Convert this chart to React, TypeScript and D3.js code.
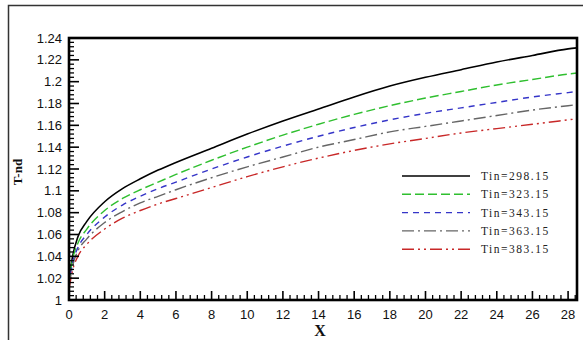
import React from "react";
import * as d3 from "d3";

// Distance along the channel (X) where the profiles are sampled
const xValues = [0, 0.2, 0.5, 1, 2, 3, 4, 5, 6, 8, 10, 12, 14, 16, 18, 20, 22, 24, 26, 28, 28.5];

// Non-dimensional temperature T-nd for each inlet temperature
const tin298 = [1.018, 1.040, 1.058, 1.072, 1.090, 1.102, 1.111, 1.119, 1.126, 1.139, 1.152, 1.164, 1.175, 1.186, 1.196, 1.204, 1.211, 1.218, 1.224, 1.230, 1.231];
const tin323 = [1.016, 1.037, 1.052, 1.065, 1.082, 1.093, 1.101, 1.108, 1.115, 1.128, 1.140, 1.151, 1.161, 1.170, 1.178, 1.185, 1.191, 1.197, 1.202, 1.207, 1.208];
const tin343 = [1.014, 1.034, 1.048, 1.060, 1.076, 1.087, 1.095, 1.102, 1.108, 1.120, 1.131, 1.141, 1.150, 1.158, 1.165, 1.171, 1.176, 1.181, 1.186, 1.190, 1.191];
const tin363 = [1.012, 1.031, 1.045, 1.056, 1.071, 1.081, 1.089, 1.095, 1.101, 1.112, 1.122, 1.131, 1.140, 1.147, 1.154, 1.159, 1.164, 1.169, 1.174, 1.178, 1.179];
const tin383 = [1.010, 1.027, 1.040, 1.051, 1.065, 1.075, 1.082, 1.088, 1.093, 1.103, 1.113, 1.122, 1.130, 1.137, 1.143, 1.148, 1.153, 1.157, 1.161, 1.165, 1.166];

const seriesLabels = ["Tin=298.15", "Tin=323.15", "Tin=343.15", "Tin=363.15", "Tin=383.15"];
const seriesValues = [tin298, tin323, tin343, tin363, tin383];
const seriesColors = ["#000000", "#2fbf2f", "#3535c8", "#666666", "#c82828"];
const seriesDashes = ["", "9,4", "6,5", "12,4,2,4", "12,4,2,4,2,4"];

const xTickValues = [0, 2, 4, 6, 8, 10, 12, 14, 16, 18, 20, 22, 24, 26, 28];
const yTickValues = [1, 1.02, 1.04, 1.06, 1.08, 1.1, 1.12, 1.14, 1.16, 1.18, 1.2, 1.22, 1.24];

const W = 583;
const H = 340;
const plot = { left: 69, right: 577, top: 38, bottom: 300 };

export default function App() {
  const x = d3.scaleLinear().domain([0, 28.5]).range([plot.left, plot.right]);
  const y = d3.scaleLinear().domain([1, 1.24]).range([plot.bottom, plot.top]);

  const line = d3
    .line<number>()
    .x((_, i) => x(xValues[i]))
    .y((d) => y(d))
    .curve(d3.curveMonotoneX);

  const xMinor = d3.range(0, 28.5 + 1e-9, 0.4).filter((v) => Math.abs(v / 2 - Math.round(v / 2)) > 1e-6);
  const yMinor = d3.range(1, 1.24 + 1e-9, 0.004).filter((v) => Math.abs((v - 1) / 0.02 - Math.round((v - 1) / 0.02)) > 1e-6);

  const tickFont = "'Liberation Sans', Arial, sans-serif";
  const serif = "'Liberation Serif', 'Times New Roman', serif";

  const legendX1 = 402;
  const legendX2 = 470;
  const legendY0 = 176;
  const legendStep = 18.3;

  return (
    <svg
      width={W}
      height={H}
      style={{ position: "absolute", left: 0, top: 0, display: "block", background: "#fff" }}
    >
      <rect x={0} y={0} width={W} height={H} fill="#fff" />
      {/* outer figure frame */}
      <rect x={8.5} y={5.5} width={700} height={500} fill="none" stroke="#333" strokeWidth={1.5} />

      <defs>
        <clipPath id="plot-clip">
          <rect x={plot.left} y={plot.top} width={plot.right - plot.left} height={plot.bottom - plot.top} />
        </clipPath>
      </defs>

      {/* curves */}
      <g clipPath="url(#plot-clip)">
        {seriesValues.map((vals, i) => (
          <path
            key={seriesLabels[i]}
            d={line(vals) ?? ""}
            fill="none"
            stroke={seriesColors[i]}
            strokeWidth={i === 0 ? 1.6 : 1.4}
            strokeDasharray={seriesDashes[i] || undefined}
          />
        ))}
      </g>

      {/* x ticks (inward) */}
      {xTickValues.map((v) => (
        <line key={"xm" + v} x1={x(v)} x2={x(v)} y1={plot.bottom} y2={plot.bottom - 9} stroke="#000" strokeWidth={1.6} />
      ))}
      {xMinor.map((v) => (
        <line key={"xn" + v} x1={x(v)} x2={x(v)} y1={plot.bottom} y2={plot.bottom - 5} stroke="#000" strokeWidth={1.3} />
      ))}
      {/* y ticks (inward) */}
      {yTickValues.map((v) => (
        <line key={"ym" + v} x1={plot.left} x2={plot.left + 10} y1={y(v)} y2={y(v)} stroke="#000" strokeWidth={1.6} />
      ))}
      {yMinor.map((v) => (
        <line key={"yn" + v} x1={plot.left} x2={plot.left + 5} y1={y(v)} y2={y(v)} stroke="#000" strokeWidth={1.3} />
      ))}

      {/* plot frame */}
      <rect
        x={plot.left}
        y={plot.top}
        width={plot.right - plot.left}
        height={plot.bottom - plot.top}
        fill="none"
        stroke="#000"
        strokeWidth={2.6}
      />

      {/* tick labels */}
      {xTickValues.map((v) => (
        <text key={"xl" + v} x={x(v)} y={319} textAnchor="middle" fontFamily={tickFont} fontSize={13} fill="#111">
          {d3.format("d")(v)}
        </text>
      ))}
      {yTickValues.map((v) => (
        <text key={"yl" + v} x={62} y={y(v) + 4.5} textAnchor="end" fontFamily={tickFont} fontSize={13} fill="#111">
          {d3.format("~g")(v)}
        </text>
      ))}

      {/* axis titles */}
      <text x={320} y={336} textAnchor="middle" fontFamily={serif} fontWeight="bold" fontSize={16} fill="#111">
        X
      </text>
      <text
        transform={`translate(22, 172) rotate(-90)`}
        textAnchor="middle"
        fontFamily={serif}
        fontWeight="bold"
        fontSize={13}
        fill="#111"
      >
        T-nd
      </text>

      {/* legend */}
      {seriesLabels.map((label, i) => {
        const ly = legendY0 + i * legendStep;
        return (
          <g key={"lg" + label}>
            <line
              x1={legendX1}
              x2={legendX2}
              y1={ly}
              y2={ly}
              stroke={seriesColors[i]}
              strokeWidth={1.4}
              strokeDasharray={seriesDashes[i] || undefined}
            />
            <text x={481} y={ly + 4} fontFamily={serif} fontSize={11.5} letterSpacing={1.5} fill="#222">
              {label}
            </text>
          </g>
        );
      })}
    </svg>
  );
}
